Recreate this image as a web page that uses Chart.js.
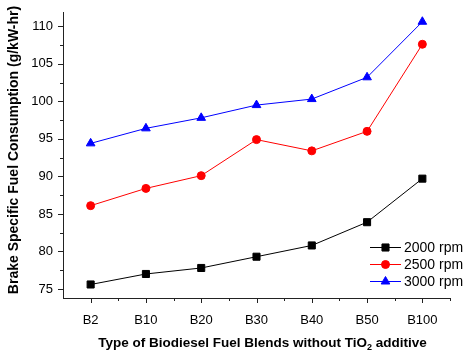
<!DOCTYPE html>
<html>
<head>
  <title>BSFC chart</title>
  <style>
    body { margin: 0; background: #fff; }
    #wrap { width: 465px; height: 353px; }
  </style>
  <script src="https://cdn.jsdelivr.net/npm/chart.js"></script>
</head>
<body>
  <div id="wrap"><canvas id="chart" width="465" height="353"></canvas></div>

  <script>
    const categories = ['B2', 'B10', 'B20', 'B30', 'B40', 'B50', 'B100'];
    const rpm2000 = [75.6, 77.0, 77.8, 79.3, 80.8, 83.9, 89.7];
    const rpm2500 = [86.1, 88.4, 90.1, 94.9, 93.4, 96.0, 107.6];
    const rpm3000 = [94.4, 96.4, 97.8, 99.5, 100.3, 103.2, 110.6];
    const yTicks = [75, 80, 85, 90, 95, 100, 105, 110];
    const yMinorTicks = [77.5, 82.5, 87.5, 92.5, 97.5, 102.5, 107.5];

    const FONT = "'Liberation Sans', Arial, sans-serif";

    // draws the small tick marks, axis titles and the legend box inside the plot
    const extras = {
      id: 'extras',
      afterDraw(chart) {
        const ctx = chart.ctx;
        const x = chart.scales.x;
        const y = chart.scales.y;
        const area = chart.chartArea;
        ctx.save();
        ctx.strokeStyle = '#222';
        ctx.lineWidth = 1;

        // y ticks (outward, to the left)
        ctx.beginPath();
        yTicks.forEach(v => {
          const py = Math.round(y.getPixelForValue(v)) + 0.5;
          ctx.moveTo(area.left - 5, py);
          ctx.lineTo(area.left, py);
        });
        yMinorTicks.forEach(v => {
          const py = Math.round(y.getPixelForValue(v)) + 0.5;
          ctx.moveTo(area.left - 3, py);
          ctx.lineTo(area.left, py);
        });
        // x ticks (outward, downward)
        categories.forEach((c, i) => {
          const px = Math.round(x.getPixelForValue(i)) + 0.5;
          ctx.moveTo(px, area.bottom);
          ctx.lineTo(px, area.bottom + 5);
          const pm = Math.round(x.getPixelForValue(i + 0.5)) + 0.5;
          ctx.moveTo(pm, area.bottom);
          ctx.lineTo(pm, area.bottom + 3);
        });
        ctx.stroke();

        // y title
        ctx.fillStyle = '#000';
        ctx.font = 'bold 14px ' + FONT;
        ctx.textAlign = 'center';
        ctx.textBaseline = 'middle';
        ctx.save();
        ctx.translate(14, 150);
        ctx.rotate(-Math.PI / 2);
        ctx.fillText('Brake Specific Fuel Consumption (g/kW-hr)', 0, 0);
        ctx.restore();

        // x title with subscript
        const p1 = 'Type of Biodiesel Fuel Blends without TiO';
        const p2 = '2';
        const p3 = ' additive';
        ctx.textAlign = 'left';
        ctx.font = 'bold 13.5px ' + FONT;
        const w1 = ctx.measureText(p1).width;
        const w3 = ctx.measureText(p3).width;
        ctx.font = 'bold 9px ' + FONT;
        const w2 = ctx.measureText(p2).width;
        const tx = 262.5 - (w1 + w2 + w3) / 2;
        const ty = 343;
        ctx.font = 'bold 13.5px ' + FONT;
        ctx.fillText(p1, tx, ty);
        ctx.font = 'bold 9px ' + FONT;
        ctx.fillText(p2, tx + w1, ty + 5);
        ctx.font = 'bold 13.5px ' + FONT;
        ctx.fillText(p3, tx + w1 + w2, ty);

        // legend
        chart.data.datasets.forEach((ds, i) => {
          const ly = 247 + i * 17;
          ctx.strokeStyle = ds.borderColor;
          ctx.fillStyle = ds.borderColor;
          ctx.lineWidth = 1;
          ctx.beginPath();
          ctx.moveTo(370, ly + 0.5);
          ctx.lineTo(401, ly + 0.5);
          ctx.stroke();
          Chart.helpers.drawPoint(ctx, {
            pointStyle: ds.pointStyle,
            radius: ds.pointRadius,
            borderWidth: 1
          }, 385.5, ly + 0.5);
          ctx.fillStyle = '#000';
          ctx.font = '14px ' + FONT;
          ctx.fillText(ds.label, 404, ly + 1);
        });
        ctx.restore();
      }
    };

    function makeSet(label, data, color, style, radius) {
      return {
        label: label,
        data: data,
        borderColor: color,
        backgroundColor: color,
        pointBackgroundColor: color,
        pointBorderColor: color,
        borderWidth: 1,
        pointStyle: style,
        pointRadius: radius,
        pointBorderWidth: 1,
        tension: 0,
        fill: false
      };
    }

    new Chart(document.getElementById('chart'), {
      type: 'line',
      data: {
        labels: categories,
        datasets: [
          makeSet('2000 rpm', rpm2000, '#000000', 'rect', 5),
          makeSet('2500 rpm', rpm2500, '#ff0000', 'circle', 4),
          makeSet('3000 rpm', rpm3000, '#0000ff', 'triangle', 5)
        ]
      },
      options: {
        responsive: false,
        animation: false,
        layout: { padding: { top: 12, right: 15, left: 0, bottom: 0 } },
        plugins: {
          legend: { display: false },
          tooltip: { enabled: false }
        },
        scales: {
          x: {
            type: 'category',
            offset: true,
            grid: { display: false, drawTicks: false },
            border: { display: true, color: '#222', width: 1 },
            ticks: {
              color: '#000',
              font: { family: FONT, size: 13 },
              padding: 15,
              maxRotation: 0
            },
            afterFit(scale) {
              scale.height = 55;
              scale.paddingLeft = 0;
              scale.paddingRight = 0;
            }
          },
          y: {
            min: 73.8,
            max: 111.9,
            grid: { display: false, drawTicks: false },
            border: { display: true, color: '#222', width: 1 },
            ticks: {
              color: '#000',
              font: { family: FONT, size: 13 },
              padding: 10
            },
            afterBuildTicks(scale) {
              scale.ticks = yTicks.map(v => ({ value: v }));
            },
            afterFit(scale) {
              scale.width = 63;
              scale.paddingTop = 0;
              scale.paddingBottom = 0;
            }
          }
        }
      },
      plugins: [extras]
    });
  </script>
</body>
</html>
